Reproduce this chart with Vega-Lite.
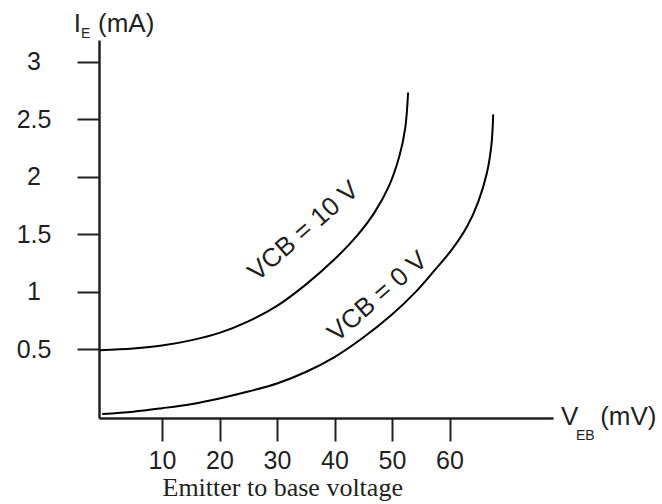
{
  "$schema": "https://vega.github.io/schema/vega-lite/v6.json",
  "width": 454,
  "height": 378,
  "autosize": {"type": "none"},
  "padding": {"left": 99, "top": 40, "right": 109, "bottom": 86},
  "background": "white",
  "config": {"view": {"stroke": null}},
  "datasets": {
    "curves": [
      {"series": "VCB = 10 V", "i": 0, "x": -0.8, "y": 0.49},
      {"series": "VCB = 10 V", "i": 1, "x": 5, "y": 0.505},
      {"series": "VCB = 10 V", "i": 2, "x": 10, "y": 0.53},
      {"series": "VCB = 10 V", "i": 3, "x": 15, "y": 0.575},
      {"series": "VCB = 10 V", "i": 4, "x": 20, "y": 0.64},
      {"series": "VCB = 10 V", "i": 5, "x": 25, "y": 0.74},
      {"series": "VCB = 10 V", "i": 6, "x": 30, "y": 0.875},
      {"series": "VCB = 10 V", "i": 7, "x": 35, "y": 1.06},
      {"series": "VCB = 10 V", "i": 8, "x": 40, "y": 1.28},
      {"series": "VCB = 10 V", "i": 9, "x": 44, "y": 1.49},
      {"series": "VCB = 10 V", "i": 10, "x": 47, "y": 1.69},
      {"series": "VCB = 10 V", "i": 11, "x": 49.5, "y": 1.92},
      {"series": "VCB = 10 V", "i": 12, "x": 51.3, "y": 2.18},
      {"series": "VCB = 10 V", "i": 13, "x": 52.3, "y": 2.42},
      {"series": "VCB = 10 V", "i": 14, "x": 52.8, "y": 2.73},
      {"series": "VCB = 0 V", "i": 0, "x": -0.4, "y": -0.065},
      {"series": "VCB = 0 V", "i": 1, "x": 5, "y": -0.045},
      {"series": "VCB = 0 V", "i": 2, "x": 10, "y": -0.015},
      {"series": "VCB = 0 V", "i": 3, "x": 15, "y": 0.02},
      {"series": "VCB = 0 V", "i": 4, "x": 20, "y": 0.07},
      {"series": "VCB = 0 V", "i": 5, "x": 25, "y": 0.13},
      {"series": "VCB = 0 V", "i": 6, "x": 30, "y": 0.2},
      {"series": "VCB = 0 V", "i": 7, "x": 35, "y": 0.3},
      {"series": "VCB = 0 V", "i": 8, "x": 40, "y": 0.43},
      {"series": "VCB = 0 V", "i": 9, "x": 45, "y": 0.6},
      {"series": "VCB = 0 V", "i": 10, "x": 50, "y": 0.8},
      {"series": "VCB = 0 V", "i": 11, "x": 54, "y": 0.99},
      {"series": "VCB = 0 V", "i": 12, "x": 57.5, "y": 1.19},
      {"series": "VCB = 0 V", "i": 13, "x": 60.5, "y": 1.37},
      {"series": "VCB = 0 V", "i": 14, "x": 63, "y": 1.56},
      {"series": "VCB = 0 V", "i": 15, "x": 65, "y": 1.78},
      {"series": "VCB = 0 V", "i": 16, "x": 66.5, "y": 2.03},
      {"series": "VCB = 0 V", "i": 17, "x": 67.3, "y": 2.28},
      {"series": "VCB = 0 V", "i": 18, "x": 67.6, "y": 2.54}
    ],
    "curveLabels": [
      {"text": "VCB = 10 V", "x": 34.6, "y": 1.525},
      {"text": "VCB = 0 V", "x": 47.5, "y": 0.955}
    ],
    "bigText": [
      {"text": "I", "x": -5.37, "y": 3.257},
      {"text": "(mA)", "x": -1.13, "y": 3.257},
      {"text": "V", "x": 79.4, "y": -0.16},
      {"text": "(mV)", "x": 86.2, "y": -0.16}
    ],
    "subText": [
      {"text": "E", "x": -4.09, "y": 3.204},
      {"text": "EB", "x": 82.0, "y": -0.29}
    ]
  },
  "encoding": {
    "x": {
      "field": "x",
      "type": "quantitative",
      "scale": {"domain": [-0.957, 78.0], "nice": false, "zero": false},
      "axis": {
        "values": [10, 20, 30, 40, 50, 60],
        "grid": false,
        "tickSize": 23,
        "tickWidth": 2,
        "tickColor": "#231f20",
        "domainColor": "#231f20",
        "domainWidth": 2.5,
        "labelFont": "Liberation Sans",
        "labelFontSize": 25,
        "labelColor": "#231f20",
        "labelPadding": 7,
        "labelBaseline": "top",
        "labelAlign": "center",
        "title": "Emitter to base voltage",
        "titleFont": "Liberation Serif",
        "titleFontSize": 26,
        "titleFontWeight": "normal",
        "titleColor": "#231f20",
        "titleAlign": "left",
        "titleAnchor": null,
        "titleX": 63,
        "titleY": 77,
        "titleBaseline": "alphabetic"
      }
    },
    "y": {
      "field": "y",
      "type": "quantitative",
      "scale": {"domain": [-0.1, 3.187], "nice": false, "zero": false},
      "axis": {
        "values": [0.5, 1, 1.5, 2, 2.5, 3],
        "labelExpr": "'' + datum.value",
        "grid": false,
        "tickSize": 22,
        "tickWidth": 2,
        "tickColor": "#231f20",
        "domainColor": "#231f20",
        "domainWidth": 2.5,
        "labelFont": "Liberation Sans",
        "labelFontSize": 25,
        "labelColor": "#231f20",
        "labelAlign": "center",
        "labelBaseline": "middle",
        "labelPadding": 43.5,
        "title": null
      }
    }
  },
  "layer": [
    {
      "data": {"name": "curves"},
      "mark": {"type": "line", "interpolate": "catmull-rom", "stroke": "black", "strokeWidth": 2},
      "encoding": {
        "detail": {"field": "series"},
        "order": {"field": "i", "type": "quantitative"}
      }
    },
    {
      "data": {"name": "curveLabels"},
      "mark": {"type": "text", "angle": -41, "font": "Liberation Sans", "fontSize": 26, "align": "center", "baseline": "middle", "color": "#231f20"},
      "encoding": {"text": {"field": "text"}}
    },
    {
      "data": {"name": "bigText"},
      "mark": {"type": "text", "font": "Liberation Sans", "fontSize": 26, "align": "left", "baseline": "alphabetic", "color": "#231f20"},
      "encoding": {"text": {"field": "text"}}
    },
    {
      "data": {"name": "subText"},
      "mark": {"type": "text", "font": "Liberation Sans", "fontSize": 14, "align": "left", "baseline": "alphabetic", "color": "#231f20"},
      "encoding": {"text": {"field": "text"}}
    }
  ]
}
